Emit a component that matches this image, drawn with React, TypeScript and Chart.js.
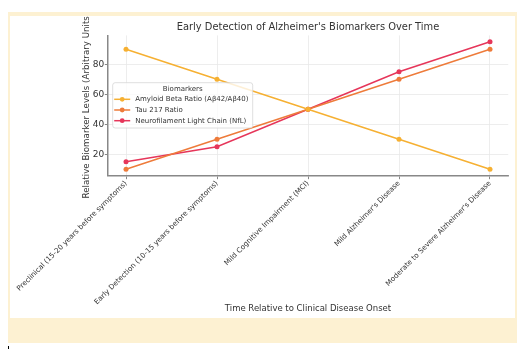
import React, { useEffect, useRef } from 'react';
import { Chart, registerables } from 'chart.js';

Chart.register(...registerables);

const categories = [
  'Preclinical (15-20 years before symptoms)',
  'Early Detection (10-15 years before symptoms)',
  'Mild Cognitive Impairment (MCI)',
  "Mild Alzheimer's Disease",
  "Moderate to Severe Alzheimer's Disease",
];
const amyloidBeta = [90, 70, 50, 30, 10];
const tau217 = [10, 30, 50, 70, 90];
const nfl = [15, 25, 50, 75, 95];
const yTickValues = [20, 40, 60, 80];
const seriesNames = [
  'Amyloid Beta Ratio (Aβ42/Aβ40)',
  'Tau 217 Ratio',
  'Neurofilament Light Chain (NfL)',
];
const seriesColors = ['#f6b032', '#ee7b3a', '#e6365a'];
const chartTitle = "Early Detection of Alzheimer's Biomarkers Over Time";
const xTitle = 'Time Relative to Clinical Disease Onset';
const yTitle = 'Relative Biomarker Levels (Arbitrary Units)';
const legendTitle = 'Biomarkers';

const FONT = "'DejaVu Sans', sans-serif";

const textPlugin = {
  id: 'customText',
  afterDraw(chart: any) {
    const ctx = chart.ctx;
    const ca = chart.chartArea;
    const cx = (ca.left + ca.right) / 2;
    const cy = (ca.top + ca.bottom) / 2;
    ctx.save();
    ctx.fillStyle = '#333';
    ctx.textAlign = 'center';
    ctx.textBaseline = 'middle';
    ctx.font = `9.9px ${FONT}`;
    ctx.fillText(chartTitle, cx, 11.5);
    ctx.font = `8.5px ${FONT}`;
    ctx.fillText(xTitle, cx, 293);
    ctx.save();
    ctx.translate(77, cy);
    ctx.rotate(-Math.PI / 2);
    ctx.font = `8.7px ${FONT}`;
    ctx.fillText(yTitle, 0, 0);
    ctx.restore();

    // legend
    const lx = 102.7, ly = 66.7, lw = 140, lh = 45.3;
    ctx.beginPath();
    const r = 2.5;
    ctx.moveTo(lx + r, ly);
    ctx.lineTo(lx + lw - r, ly);
    ctx.quadraticCurveTo(lx + lw, ly, lx + lw, ly + r);
    ctx.lineTo(lx + lw, ly + lh - r);
    ctx.quadraticCurveTo(lx + lw, ly + lh, lx + lw - r, ly + lh);
    ctx.lineTo(lx + r, ly + lh);
    ctx.quadraticCurveTo(lx, ly + lh, lx, ly + lh - r);
    ctx.lineTo(lx, ly + r);
    ctx.quadraticCurveTo(lx, ly, lx + r, ly);
    ctx.closePath();
    ctx.fillStyle = 'rgba(255,255,255,0.8)';
    ctx.fill();
    ctx.strokeStyle = '#d6d6d6';
    ctx.lineWidth = 0.8;
    ctx.stroke();

    ctx.fillStyle = '#333';
    ctx.font = `7px ${FONT}`;
    ctx.textAlign = 'center';
    ctx.fillText(legendTitle, lx + lw / 2, ly + 6.5);
    ctx.textAlign = 'left';
    chart.data.datasets.forEach((ds: any, i: number) => {
      const y = ly + 16.6 + i * 10.7;
      ctx.strokeStyle = ds.borderColor;
      ctx.lineWidth = 1.5;
      ctx.beginPath();
      ctx.moveTo(lx + 1.5, y);
      ctx.lineTo(lx + 17.5, y);
      ctx.stroke();
      ctx.fillStyle = ds.borderColor;
      ctx.beginPath();
      ctx.arc(lx + 9.5, y, 2.4, 0, Math.PI * 2);
      ctx.fill();
      ctx.fillStyle = '#333';
      ctx.fillText(ds.label, lx + 22.5, y);
    });
    ctx.restore();
  },
};

function App() {
  const ref = useRef<HTMLCanvasElement | null>(null);
  useEffect(() => {
    if (!ref.current) return;
    const series = [amyloidBeta, tau217, nfl];
    const chart = new Chart(ref.current, {
      type: 'line',
      data: {
        datasets: series.map((vals, si) => ({
          label: seriesNames[si],
          data: vals.map((v, i) => ({ x: i, y: v })),
          borderColor: seriesColors[si],
          backgroundColor: seriesColors[si],
          pointBackgroundColor: seriesColors[si],
          borderWidth: 1.5,
          pointRadius: 2.5,
          pointHoverRadius: 2.5,
          pointBorderWidth: 0,
          tension: 0,
        })),
      },
      options: {
        responsive: false,
        animation: false,
        events: [],
        layout: { padding: { top: 19.4, right: 6.8, left: 0, bottom: 0 } },
        plugins: {
          legend: { display: false },
          title: { display: false },
          tooltip: { enabled: false },
        },
        scales: {
          x: {
            type: 'linear',
            min: -0.2,
            max: 4.2,
            afterBuildTicks: (s: any) => {
              s.ticks = categories.map((_, i) => ({ value: i }));
            },
            afterFit: (s: any) => {
              s.height = 142.3;
            },
            ticks: {
              autoSkip: false,
              maxRotation: 45,
              minRotation: 45,
              padding: 0,
              color: '#333',
              font: { family: FONT, size: 7.2 },
              callback: (v: any) => categories[Math.round(Number(v))],
            },
            grid: { color: '#e8e8e8', lineWidth: 0.8, tickLength: 3.5, tickColor: '#888', tickWidth: 1 },
            border: { color: '#888', width: 1.5 },
          },
          y: {
            type: 'linear',
            min: 5.75,
            max: 99.25,
            afterBuildTicks: (s: any) => {
              s.ticks = yTickValues.map((v) => ({ value: v }));
            },
            afterFit: (s: any) => {
              s.width = 97.8;
            },
            ticks: {
              padding: 0.5,
              color: '#333',
              font: { family: FONT, size: 9 },
            },
            grid: { color: '#e8e8e8', lineWidth: 0.8, tickLength: 3, tickColor: '#888', tickWidth: 1 },
            border: { color: '#888', width: 1.5 },
          },
        },
      },
      plugins: [textPlugin],
    } as any);
    return () => chart.destroy();
  }, []);

  return (
    <div style={{ position: 'relative', height: 342 }}>
      <div
        style={{
          position: 'absolute',
          left: 0,
          top: 4,
          width: 509,
          height: 331,
          background: '#fdf1d2',
        }}
      >
        <canvas
          ref={ref}
          width={505}
          height={302}
          style={{ position: 'absolute', left: 2, top: 4, width: 505, height: 302, background: '#ffffff' }}
        />
      </div>
      <div style={{ position: 'absolute', left: 0, top: 338, width: 1, height: 3, background: '#000' }} />
    </div>
  );
}

export default App;
